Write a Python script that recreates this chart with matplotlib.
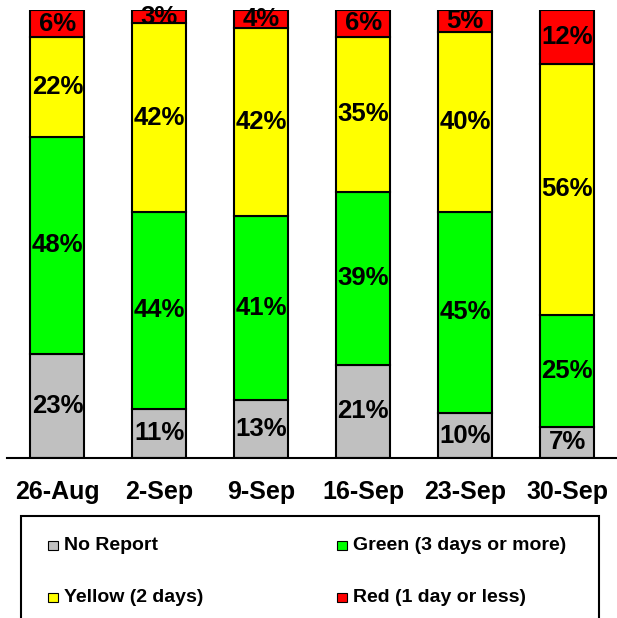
import matplotlib
matplotlib.use("Agg")
import matplotlib.pyplot as plt
import numpy as np
from matplotlib.patches import Rectangle

plt.rcParams["font.family"] = ["Liberation Sans", "DejaVu Sans"]
plt.rcParams["font.weight"] = "bold"

weeks = ["26-Aug", "2-Sep", "9-Sep", "16-Sep", "23-Sep", "30-Sep"]
series = ["No Report", "Green (3 days or more)", "Yellow (2 days)", "Red (1 day or less)"]
colors = ["#C0C0C0", "#00FF00", "#FFFF00", "#FF0000"]

no_report = [23, 11, 13, 21, 10, 7]
green = [48, 44, 41, 39, 45, 25]
yellow = [22, 42, 42, 35, 40, 56]
red = [6, 3, 4, 6, 5, 12]

values = np.array([no_report, green, yellow, red], dtype=float)
shares = values / values.sum(axis=0)

W, H = 617, 618
fig = plt.figure(figsize=(W / 100, H / 100), dpi=100)
ax = fig.add_axes([6.5 / W, (H - 458) / H, 611.5 / W, 448 / H])

x = np.arange(len(weeks))
bottom = np.zeros(len(weeks))
for row, share, color in zip(values, shares, colors):
    ax.bar(x, share, 0.53, bottom=bottom, color=color, edgecolor="black", linewidth=1.5, zorder=2)
    for xi, b, s, v in zip(x, bottom, share, row):
        ax.text(xi, b + s / 2, f"{v:.0f}%", ha="center", va="center",
                fontsize=18.5, fontweight="bold", zorder=3)
    bottom += share

ax.set_xlim(-0.5, len(weeks) - 0.5)
ax.set_ylim(0, 1)
ax.set_xticks(x)
ax.set_xticklabels(weeks, fontsize=18, fontweight="bold")
ax.tick_params(axis="x", length=0, pad=16)
ax.set_yticks([])
for side in ("top", "left", "right"):
    ax.spines[side].set_visible(False)
ax.spines["bottom"].set_linewidth(1.5)

# legend box, drawn in pixel coordinates of the figure
fig.patches.append(Rectangle((20.5 / W, -0.05), 578.5 / W, (H - 516) / H + 0.05,
                             transform=fig.transFigure, fill=False,
                             edgecolor="black", linewidth=1.5))
for i, (name, color) in enumerate(zip(series, colors)):
    col, row = i % 2, i // 2
    mx = 48 + col * 289
    my = 545 + row * 52
    fig.patches.append(Rectangle((mx / W, (H - my - 4.5) / H), 10 / W, 9 / H,
                                 transform=fig.transFigure, facecolor=color,
                                 edgecolor="black", linewidth=0.8))
    fig.text((mx + 16) / W, (H - my) / H, name, ha="left", va="center",
             fontsize=14, fontweight="bold")

fig.savefig("out.png", dpi=100)
